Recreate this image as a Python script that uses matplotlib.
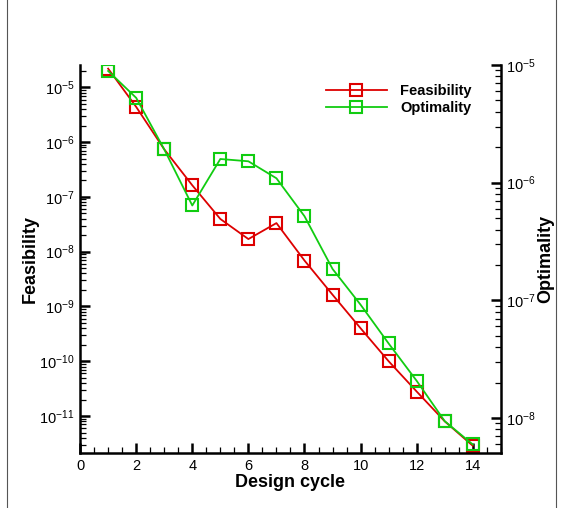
import matplotlib
matplotlib.use("Agg")
import matplotlib.pyplot as plt
from matplotlib.lines import Line2D
from matplotlib.ticker import LogLocator, MultipleLocator, NullFormatter

plt.rcParams["font.family"] = ["Liberation Sans", "DejaVu Sans"]

design_cycle = [1, 2, 3, 4, 5, 6, 7, 8, 9, 10, 11, 12, 13, 14]
feasibility = [2.2e-5, 4.4e-6, 7.4e-7, 1.63e-7, 3.96e-8, 1.7e-8, 3.33e-8,
               6.9e-9, 1.64e-9, 4.0e-10, 1.0e-10, 2.8e-11, 8.0e-12, 2.86e-12]
optimality = [8.9e-6, 5.26e-6, 1.92e-6, 6.4e-7, 1.59e-6, 1.52e-6, 1.09e-6,
              5.19e-7, 1.85e-7, 9.18e-8, 4.3e-8, 2.07e-8, 9.4e-9, 5.96e-9]

RED = "#dd0000"
GREEN = "#11cc11"

fig = plt.figure(figsize=(5.64, 5.08), dpi=100)
ax = fig.add_axes([0.142, 0.108, 0.746, 0.764])
ax2 = ax.twinx()

style = dict(marker="s", markersize=8.5, markerfacecolor="none",
             markeredgewidth=1.5, linewidth=1.3)
ax.plot(design_cycle, feasibility, color=RED, **style)
ax2.plot(design_cycle, optimality, color=GREEN, **style)

ax.set_xlim(0, 15)
ax.set_yscale("log")
ax.set_ylim(2.1e-12, 2.56e-5)
ax2.set_yscale("log")
ax2.set_ylim(5.03e-9, 1e-5)

ax.xaxis.set_major_locator(MultipleLocator(2))
ax.xaxis.set_minor_locator(MultipleLocator(0.5))
for a in (ax, ax2):
    a.yaxis.set_major_locator(LogLocator(base=10, numticks=20))
    a.yaxis.set_minor_locator(LogLocator(base=10, subs=range(2, 10), numticks=20))
    a.yaxis.set_minor_formatter(NullFormatter())
    a.spines["top"].set_visible(False)
    for side in ("left", "right", "bottom"):
        a.spines[side].set_linewidth(1.8)
    a.tick_params(which="major", direction="in", length=7, width=1.8,
                  labelsize=10.5, pad=4)
    a.tick_params(which="minor", direction="in", length=4, width=0.9)
ax.spines["right"].set_visible(False)
ax2.spines["left"].set_visible(False)
ax2.spines["bottom"].set_visible(False)

ax.set_xlabel("Design cycle", fontsize=13, fontweight="bold", labelpad=1)
ax.set_ylabel("Feasibility", fontsize=13, fontweight="bold", labelpad=0)
ax2.set_ylabel("Optimality", fontsize=13, fontweight="bold", labelpad=1)

handles = [Line2D([], [], color=RED, **style),
           Line2D([], [], color=GREEN, **style)]
leg = ax2.legend(handles, ["Feasibility", "Optimality"], loc="upper right",
                 bbox_to_anchor=(0.962, 0.985), frameon=False, handlelength=4.2,
                 handletextpad=0.9, labelspacing=0.2,
                 prop={"weight": "bold", "size": 10.5})

# thin page border lines on both sides
fig.add_artist(Line2D([0.013, 0.013], [0, 1], color="#555555", linewidth=0.8))
fig.add_artist(Line2D([0.986, 0.986], [0, 1], color="#555555", linewidth=0.8))

fig.savefig("out.png", dpi=100)
